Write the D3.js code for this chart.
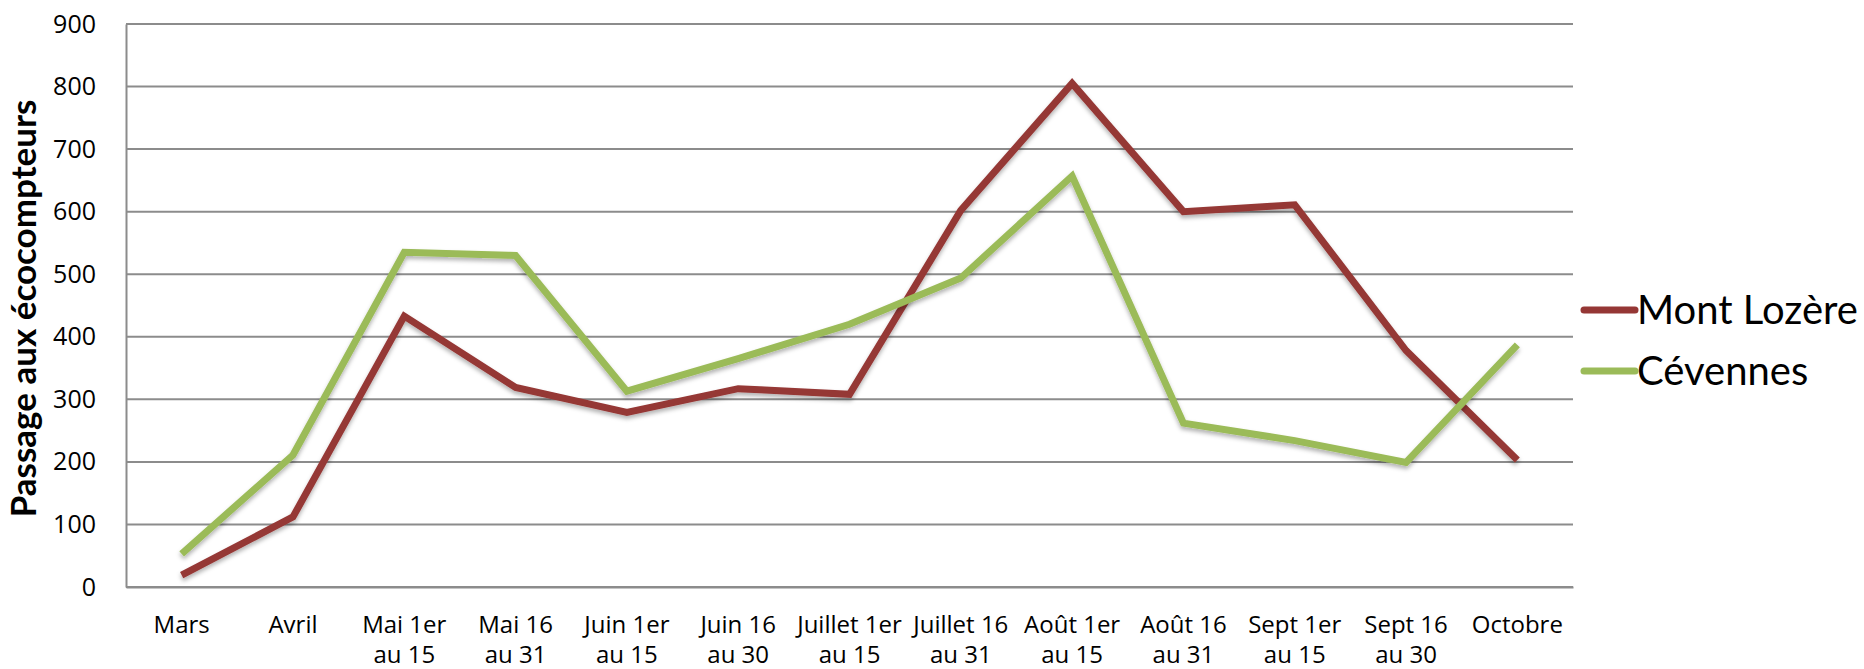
<!DOCTYPE html>
<html>
<head>
<meta charset="utf-8">
<script src="https://cdn.jsdelivr.net/npm/d3@7"></script>
<style>
  body { margin: 0; background: #fff; }
  svg { display: block; }
</style>
</head>
<body>
<svg id="chart"></svg>
<script>

// categories (two line labels)
let categories = ["Mars", "Avril", "Mai 1er\nau 15", "Mai 16\nau 31", "Juin 1er\nau 15", "Juin 16\nau 30",
    "Juillet 1er\nau 15", "Juillet 16\nau 31", "Août 1er\nau 15", "Août 16\nau 31", "Sept 1er\nau 15",
    "Sept 16\nau 30", "Octobre"]

let montLozere = [19, 112, 433, 319, 279, 317, 308, 602, 805, 600, 611, 378, 203]
let cevennes = [53, 211, 535, 530, 313, 365, 420, 494, 657, 262, 234, 199, 387]

let seriesNames = ["Mont Lozère", "Cévennes"]
let seriesColors = ["#953735", "#9bbb59"]

let yTicks = [0, 100, 200, 300, 400, 500, 600, 700, 800, 900]

let W = 1864, H = 669
let margin = { top: 24, right: 291, bottom: 82, left: 126 },
    width = W - margin.left - margin.right,
    height = H - margin.top - margin.bottom

let root = d3.select('#chart')
    .attr('width', W)
    .attr('height', H)

// soft shadow like the office chart
let defs = root.append('defs')
let filter = defs.append('filter').attr('id', 'shadow')
    .attr('x', '-5%').attr('y', '-5%').attr('width', '110%').attr('height', '120%')
filter.append('feDropShadow')
    .attr('dx', 0).attr('dy', 3).attr('stdDeviation', 2)
    .attr('flood-color', '#000').attr('flood-opacity', 0.3)

let svg = root.append('g')
    .attr('transform', `translate(${margin.left}, ${margin.top})`)

let x = d3.scaleBand().domain(categories).range([0, width])
let y = d3.scaleLinear().domain([0, 900]).range([height, 0])

// gridlines
svg.append('g')
    .selectAll('line')
    .data(yTicks)
    .enter().append('line')
    .attr('x1', 0)
    .attr('x2', width)
    .attr('y1', d => y(d))
    .attr('y2', d => y(d))
    .attr('stroke', '#8c8c8c')
    .attr('stroke-width', 2)

// y axis
let yAxis = svg.append('g')
    .call(d3.axisLeft(y).tickValues(yTicks).tickSize(0).tickPadding(30))
yAxis.select('.domain').attr('stroke', '#8c8c8c').attr('stroke-width', 2)
yAxis.selectAll('text')
    .style('font-family', '"Open Sans", sans-serif')
    .style('font-size', '25px')
    .style('fill', '#000')

// x axis labels
let xAxis = svg.append('g')
    .attr('transform', `translate(0, ${height})`)
    .call(d3.axisBottom(x).tickSize(0).tickPadding(0).tickFormat(''))
xAxis.select('.domain').attr('stroke', '#8c8c8c').attr('stroke-width', 2)
xAxis.selectAll('.tick').each(function (d) {
    let t = d3.select(this).append('text')
        .attr('text-anchor', 'middle')
        .style('font-family', '"Liberation Sans Narrow", "Open Sans", sans-serif')
        .style('font-size', '24px')
        .style('fill', '#000')
    d.split('\n').forEach(function (line, i) {
        t.append('tspan').attr('x', 0).attr('y', 46 + i * 30).text(line)
    })
})

// y title
svg.append('text')
    .attr('transform', `translate(${-margin.left + 36}, ${height / 2 + 3}) rotate(-90)`)
    .attr('text-anchor', 'middle')
    .style('font-family', 'Lato, sans-serif')
    .style('font-weight', 'bold')
    .style('font-size', '35px')
    .text('Passage aux écocompteurs')

// lines
let line = d3.line()
    .x((d, i) => x(categories[i]) + x.bandwidth() / 2)
    .y(d => y(d))

let allSeries = [montLozere, cevennes]

svg.selectAll('.series')
    .data(allSeries)
    .enter().append('path')
    .attr('class', 'series')
    .attr('d', d => line(d))
    .attr('fill', 'none')
    .attr('stroke', (d, i) => seriesColors[i])
    .attr('stroke-width', 7)
    .attr('stroke-linejoin', 'miter')
    .attr('filter', 'url(#shadow)')

// legend
let legend = root.append('g')
    .attr('transform', `translate(1581, 310)`)

seriesNames.forEach(function (name, i) {
    let g = legend.append('g').attr('transform', `translate(0, ${i * 61})`)
    g.append('line')
        .attr('x1', 3).attr('x2', 54)
        .attr('y1', 0).attr('y2', 0)
        .attr('stroke', seriesColors[i])
        .attr('stroke-width', 7)
        .attr('stroke-linecap', 'round')
    g.append('text')
        .attr('x', 56)
        .attr('y', 14)
        .style('font-family', 'Lato, sans-serif')
        .style('font-size', '40px')
        .text(name)
})

</script>
</body>
</html>
